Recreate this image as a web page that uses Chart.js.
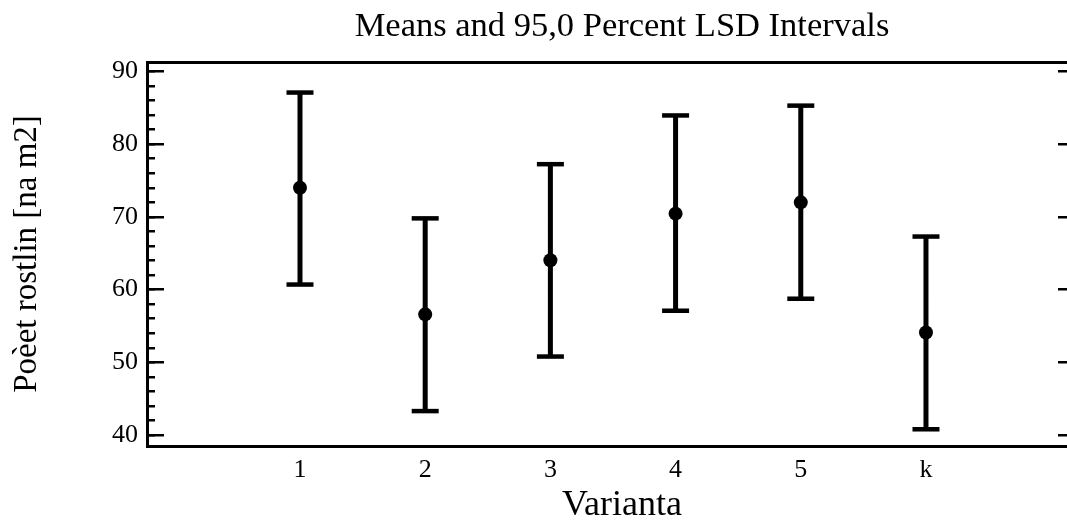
<!DOCTYPE html>
<html><head><meta charset="utf-8">
<script src="https://cdn.jsdelivr.net/npm/chart.js@4.4.0/dist/chart.umd.min.js"></script>
<style>html,body{margin:0;padding:0;background:#fff;overflow:hidden;width:1067px;height:522px}</style>
</head><body>
<canvas id="c" width="1244" height="522" style="width:1244px;height:522px;display:block"></canvas>
<script>
const categories = ['1', '2', '3', '4', '5', 'k'];
const means = [74.0, 56.6, 64.05, 70.45, 72.0, 54.1];
const lower = [60.7, 43.3, 50.8, 57.1, 58.75, 40.8];
const upper = [87.1, 69.8, 77.25, 83.95, 85.3, 67.3];

const chartTitle = 'Means and 95,0 Percent LSD Intervals';
const xTitle = 'Varianta';
const yTitle = 'Poèet rostlin [na m2]';

const FONT = "'Liberation Serif','Times New Roman',serif";
const Y_MIN = 38.5, Y_MAX = 91.3;
const X_MIN = -0.222, X_MAX = 7.366;

const xPos = categories.map((c, i) => i + 1);
const stems = [];
const caps = [];
categories.forEach((c, i) => {
  stems.push({x: xPos[i], y: lower[i]}, {x: xPos[i], y: upper[i]}, {x: xPos[i], y: null});
  caps.push({x: xPos[i], y: lower[i]}, {x: xPos[i], y: upper[i]});
});
const meanPts = means.map((m, i) => ({x: xPos[i], y: m}));

new Chart(document.getElementById('c'), {
  type: 'scatter',
  data: {
    datasets: [
      {data: meanPts, pointStyle: 'circle', pointRadius: 7, pointBackgroundColor: '#000', pointBorderWidth: 0, showLine: false},
      {data: caps, pointStyle: 'line', pointRadius: 13.5, pointBorderColor: '#000', pointBorderWidth: 4.5, showLine: false},
      {data: stems, showLine: true, spanGaps: false, borderColor: '#000', borderWidth: 5, pointRadius: 0}
    ]
  },
  options: {
    responsive: false,
    devicePixelRatio: 1,
    animation: false,
    events: [],
    layout: {padding: 0},
    plugins: {
      legend: {display: false},
      tooltip: {enabled: false},
      title: {display: true, text: chartTitle, color: '#000',
        font: {family: FONT, size: 34.5, weight: 'normal', lineHeight: 1},
        padding: {top: 10, bottom: 0}}
    },
    scales: {
      x: {
        type: 'linear', position: 'bottom', min: X_MIN, max: X_MAX,
        afterBuildTicks: s => { s.ticks = xPos.map(v => ({value: v})); },
        ticks: {callback: v => categories[Math.round(v) - 1], color: '#000',
          font: {family: FONT, size: 26}, padding: 9, maxRotation: 0, autoSkip: false},
        grid: {display: true, drawOnChartArea: false, drawTicks: false},
        border: {display: true, color: '#000', width: 3},
        title: {display: true, text: xTitle, color: '#000',
          font: {family: FONT, size: 36, lineHeight: 1}, padding: {top: 0, bottom: -2}},
        afterFit: s => { s.height = 76; }
      },
      xTop: {
        type: 'linear', position: 'top', min: X_MIN, max: X_MAX,
        ticks: {display: false},
        grid: {display: true, drawOnChartArea: false, drawTicks: false},
        border: {display: true, color: '#000', width: 3},
        afterFit: s => { s.height = 17.5; }
      },
      y: {
        type: 'linear', position: 'left', weight: 2, min: Y_MIN, max: Y_MAX,
        ticks: {stepSize: 10, includeBounds: false, color: '#000',
          font: {family: FONT, size: 26}, padding: 26},
        grid: {display: true, drawOnChartArea: false, drawTicks: true, tickLength: -17, color: '#000', lineWidth: 2.5},
        border: {display: true, color: '#000', width: 3},
        title: {display: true, text: yTitle, color: '#000',
          font: {family: FONT, size: 33, lineHeight: 1}, padding: {top: 10.5, bottom: 0}},
        afterFit: s => { s.width = 147; }
      },
      yMinor: {
        type: 'linear', position: 'left', weight: 1, min: Y_MIN, max: Y_MAX,
        ticks: {display: false, stepSize: 2, includeBounds: false},
        grid: {display: true, drawOnChartArea: false, drawTicks: true, tickLength: -8, color: '#000', lineWidth: 2.5},
        border: {display: false},
        afterFit: s => { s.width = 0; }
      },
      yRight: {
        type: 'linear', position: 'right', min: Y_MIN, max: Y_MAX,
        ticks: {display: false, stepSize: 10, includeBounds: false},
        grid: {display: true, drawOnChartArea: false, drawTicks: true, tickLength: -39, color: '#000', lineWidth: 2.5},
        border: {display: true, color: '#000', width: 3},
        afterFit: s => { s.width = 1244 - 1097; }
      }
    }
  }
});
</script>
</body></html>
